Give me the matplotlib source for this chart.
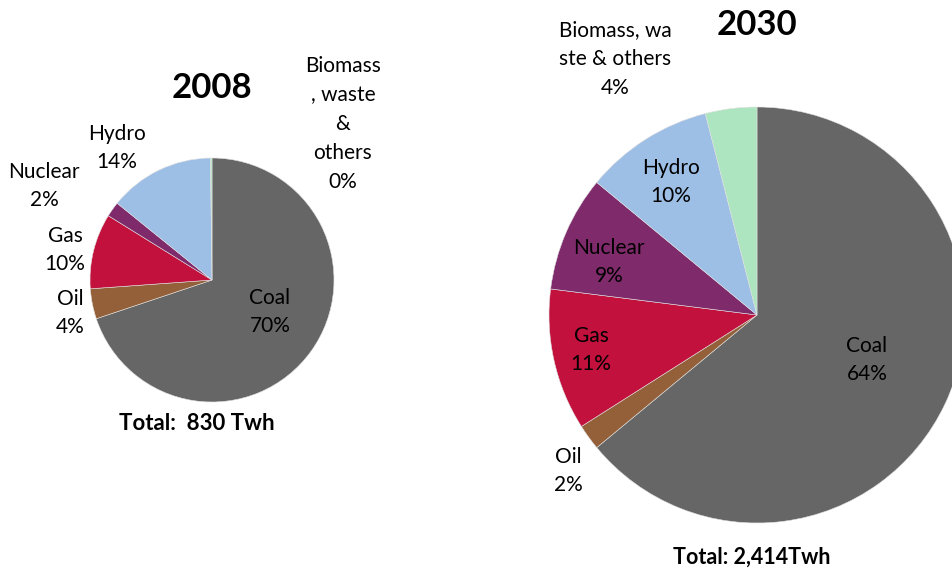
import matplotlib
matplotlib.use("Agg")
import matplotlib.pyplot as plt

categories = ["Coal", "Oil", "Gas", "Nuclear", "Hydro", "Biomass, waste & others"]
share_2008 = [70, 4, 10, 2, 14, 0.2]
share_2030 = [64, 2, 11, 9, 10, 4]
colors = ["#666666", "#93603a", "#c1113c", "#7f2a6b", "#9dbee5", "#ade5c0"]

labels_2008 = ["Coal\n70%", "Oil\n4%", "Gas\n10%", "Nuclear\n2%", "Hydro\n14%",
               "Biomass\n, waste\n&\nothers\n0%"]
labels_2030 = ["Coal\n64%", "Oil\n2%", "Gas\n11%", "Nuclear\n9%", "Hydro\n10%",
               "Biomass, wa\nste & others\n4%"]

W, H = 953, 572
plt.rcParams['font.family'] = ['Lato', 'DejaVu Sans']
fig = plt.figure(figsize=(W / 100, H / 100), dpi=100)
ax = fig.add_axes([0, 0, 1, 1])

wp = dict(edgecolor="#e0e0e0", linewidth=0.4)
ax.pie(share_2008, colors=colors, startangle=90, counterclock=False,
       center=(212, H - 280), radius=122, wedgeprops=wp)
ax.pie(share_2030, colors=colors, startangle=90, counterclock=False,
       center=(757, H - 315), radius=208, wedgeprops=wp)

ax.set_xlim(0, W)
ax.set_ylim(0, H)
ax.set_aspect("equal")
ax.axis("off")

pos_2008 = [(270, 312), (70, 313), (65, 250), (44, 186), (117, 148), (343, 124)]
pos_2030 = [(867, 360), (568, 471), (591, 350), (609, 262), (671, 182), (615, 59)]

fs = 15
for lab, (x, y) in zip(labels_2008, pos_2008):
    ax.text(x, H - y, lab, ha="center", va="center", fontsize=fs,
            linespacing=1.55, color="black")
for lab, (x, y) in zip(labels_2030, pos_2030):
    ax.text(x, H - y, lab, ha="center", va="center", fontsize=fs,
            linespacing=1.55, color="black")

ax.text(212, H - 88, "2008", ha="center", va="center", fontsize=25, fontweight="bold")
ax.text(757, H - 25, "2030", ha="center", va="center", fontsize=25, fontweight="bold")
ax.text(197, H - 424, "Total:  830 Twh", ha="center", va="center", fontsize=16, fontweight="bold")
ax.text(752, H - 557, "Total: 2,414Twh", ha="center", va="center", fontsize=15.5, fontweight="bold")

fig.savefig("out.png", dpi=100)
